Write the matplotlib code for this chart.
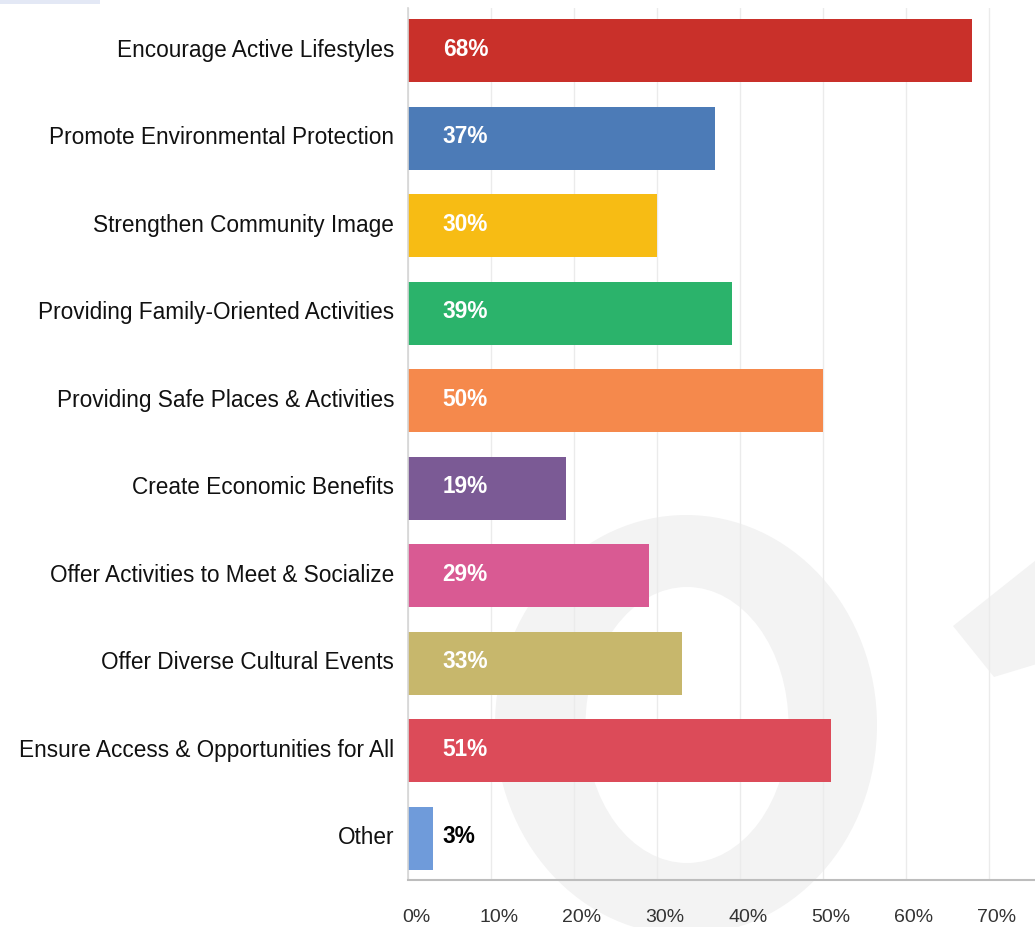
import matplotlib
matplotlib.use("Agg")
import matplotlib.pyplot as plt
import matplotlib.transforms as mtrans
from matplotlib.patches import Ellipse, Polygon, Rectangle

plt.rcParams['font.family'] = ['Liberation Sans', 'DejaVu Sans']

# Survey results: share of respondents choosing each benefit
categories = [
    "Encourage Active Lifestyles",
    "Promote Environmental Protection",
    "Strengthen Community Image",
    "Providing Family-Oriented Activities",
    "Providing Safe Places & Activities",
    "Create Economic Benefits",
    "Offer Activities to Meet & Socialize",
    "Offer Diverse Cultural Events",
    "Ensure Access & Opportunities for All",
    "Other",
]
values = [68, 37, 30, 39, 50, 19, 29, 33, 51, 3]
colors = [
    "#c9302a", "#4c7bb7", "#f7bc14", "#2bb36b", "#f5894c",
    "#7b5a95", "#d95a93", "#c7b76c", "#dc4b59", "#6f9bda",
]
x_ticks = [0, 10, 20, 30, 40, 50, 60, 70]
x_tick_labels = ["0%", "10%", "20%", "30%", "40%", "50%", "60%", "70%"]

W, H = 1035, 927
fig = plt.figure(figsize=(W / 100, H / 100), dpi=100)
fig.patch.set_facecolor("white")

# faint background emblem
wm = "#f3f3f3"
fig.patches.append(Ellipse((686 / W, 1 - 725 / H), 382 / W, 420 / H,
                           transform=fig.transFigure, facecolor=wm,
                           edgecolor="none", zorder=-3))
fig.patches.append(Ellipse((687 / W, 1 - 725 / H), 203 / W, 276 / H,
                           transform=fig.transFigure, facecolor="white",
                           edgecolor="none", zorder=-2))
fig.patches.append(Polygon([(953 / W, 1 - 626 / H), (1060 / W, 1 - 541 / H),
                            (1060 / W, 1 - 657 / H), (994 / W, 1 - 677 / H)],
                           closed=True, transform=fig.transFigure,
                           facecolor=wm, edgecolor="none", zorder=-3))
fig.patches.append(Rectangle((0, 1 - 4 / H), 100 / W, 4 / H,
                             transform=fig.transFigure, facecolor="#e3e8f5",
                             edgecolor="none", zorder=-3))

ax = fig.add_axes([408 / W, 1 - 880 / H, 1 - 408 / W, (880 - 8) / H])
ax.set_facecolor("none")

y = list(range(len(categories)))
ax.barh(y, values, height=0.72, color=colors, zorder=2)

for yi, v in zip(y, values):
    txt_color = "white" if v > 8 else "black"
    ax.annotate(f"{v}%", xy=(0, yi), xytext=(25, 1), textcoords="offset points",
                ha="left", va="center", fontsize=16.3, fontweight="bold",
                color=txt_color, zorder=3)

ax.set_xlim(0, (W - 408) / 8.3)
ax.set_ylim(9.48, -0.49)

ax.set_yticks(y)
ax.set_yticklabels(categories, fontsize=16.3, color="#111111")
ax.tick_params(axis="y", length=0, pad=10)
up = mtrans.ScaledTranslation(0, 3 / 100, fig.dpi_scale_trans)
for lbl in ax.get_yticklabels():
    lbl.set_transform(lbl.get_transform() + up)

ax.set_xticks(x_ticks)
ax.set_xticklabels(x_tick_labels, fontsize=14, color="#333333")
ax.tick_params(axis="x", length=0, pad=21)
right = mtrans.ScaledTranslation(8 / 100, 0, fig.dpi_scale_trans)
for lbl in ax.get_xticklabels():
    lbl.set_transform(lbl.get_transform() + right)

ax.grid(axis="x", color="#ebebeb", linewidth=1, zorder=0)
ax.set_axisbelow(True)

for s in ["top", "right"]:
    ax.spines[s].set_visible(False)
ax.spines["left"].set_color("#d5d5d5")
ax.spines["left"].set_linewidth(1.2)
ax.spines["bottom"].set_color("#bdbdbd")
ax.spines["bottom"].set_linewidth(1.5)

fig.savefig("out.png", dpi=100, facecolor="white")
